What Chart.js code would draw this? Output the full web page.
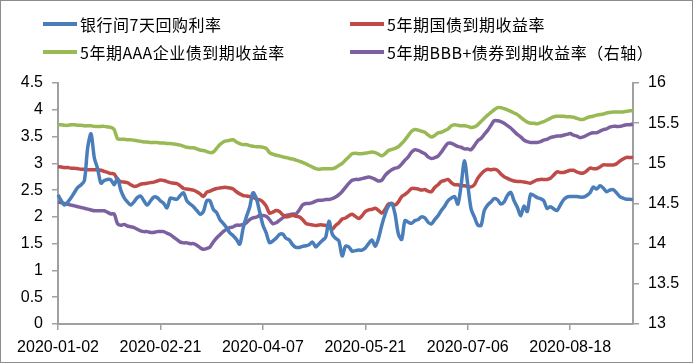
<!DOCTYPE html>
<html>
<head>
<meta charset="utf-8">
<script src="https://cdn.jsdelivr.net/npm/chart.js@4.4.1/dist/chart.umd.min.js"></script>
<style>
  body { margin: 0; background: #fff; }
  #wrap { position: relative; width: 693px; height: 363px; }
  #frame { position: absolute; left: 0; top: 0; width: 691px; height: 361px; border: 1px solid #8c8c8c; pointer-events: none; }
  .lg { position: absolute; height: 20px; display: flex; align-items: center; font: 16px "Noto Sans CJK SC", sans-serif; letter-spacing: 0.5px; color: #000; white-space: nowrap; }
  .lg i { display: inline-block; width: 34px; height: 4px; margin-right: 3px; }
</style>
</head>
<body>
<div id="wrap">
  <canvas id="myChart" width="693" height="363"></canvas>
  <div id="legend"></div>
  <div id="frame"></div>
</div>
<script>
// series names
var seriesNames = ['银行间7天回购利率', '5年期国债到期收益率', '5年期AAA企业债到期收益率', '5年期BBB+债券到期收益率（右轴）']
var seriesColors = ['#4a7ebb', '#be4b48', '#98b954', '#7d60a0']

// dates shown under the ticks (every 31 trading days)
var tickDates = ['2020-01-02', '2020-02-21', '2020-04-07', '2020-05-21', '2020-07-06', '2020-08-18']

// holidays and weekend make-up days of 2020
var holidays = ['2020-01-01', '2020-01-24', '2020-01-27', '2020-01-28', '2020-01-29', '2020-01-30', '2020-01-31',
  '2020-04-06', '2020-05-01', '2020-05-04', '2020-05-05', '2020-06-25', '2020-06-26']
var workWeekends = ['2020-01-19', '2020-04-26', '2020-05-09', '2020-06-28']

// 银行间7天回购利率 (%)
var repo7d = [
  2.41, 2.30, 2.22, 2.28, 2.36, 2.46, 2.55, 2.60, 2.68, 3.30,
  3.55, 3.10, 2.90, 2.63, 2.68, 2.70, 2.69, 2.60, 2.72, 2.50,
  2.36, 2.28, 2.22, 2.28, 2.36, 2.39, 2.30, 2.22, 2.30, 2.37,
  2.36, 2.30, 2.25, 2.17, 2.35, 2.34, 2.33, 2.40, 2.45, 2.30,
  2.24, 2.19, 2.12, 2.05, 2.10, 2.30, 2.30, 2.14, 2.08, 1.95,
  1.88, 1.80, 1.70, 1.65, 1.58, 1.49, 1.78, 2.00, 2.18, 2.45,
  2.35, 2.10, 1.85, 1.70, 1.52, 1.55, 1.60, 1.67, 1.68, 1.60,
  1.57, 1.48, 1.43, 1.43, 1.45, 1.46, 1.48, 1.53, 1.44, 1.50,
  1.56, 1.62, 1.92, 1.68, 1.60, 1.55, 1.27, 1.45, 1.44, 1.36,
  1.37, 1.38, 1.38, 1.42, 1.50, 1.57, 1.45, 1.60, 1.85, 2.05,
  2.20, 2.25, 2.05, 1.68, 1.58, 1.93, 1.90, 1.88, 1.93, 1.95,
  2.00, 1.98, 1.90, 1.87, 1.95, 2.02, 2.12, 2.20, 2.30, 2.35,
  2.38, 2.24, 2.60, 3.05, 2.60, 2.15, 2.00, 1.85, 1.84, 2.12,
  2.22, 2.28, 2.34, 2.32, 2.24, 2.28, 2.40, 2.46, 2.30, 2.18,
  2.02, 2.20, 2.10, 2.42, 2.40, 2.36, 2.34, 2.30, 2.16, 2.19,
  2.15, 2.12, 2.22, 2.32, 2.37, 2.38, 2.38, 2.38, 2.37, 2.37,
  2.40, 2.45, 2.56, 2.52, 2.58, 2.54, 2.47, 2.50, 2.51, 2.45,
  2.38, 2.35, 2.33, 2.33, 2.32
]

// 5年期国债到期收益率 (%)
var gov5y = [
  2.94, 2.93, 2.92, 2.92, 2.91, 2.91, 2.90, 2.89, 2.89, 2.88,
  2.88, 2.88, 2.88, 2.87, 2.85, 2.83, 2.81, 2.80, 2.70, 2.66,
  2.65, 2.64, 2.60, 2.57, 2.58, 2.61, 2.62, 2.63, 2.64, 2.65,
  2.67, 2.69, 2.68, 2.66, 2.64, 2.63, 2.62, 2.58, 2.53, 2.52,
  2.51, 2.50, 2.47, 2.43, 2.38, 2.46, 2.48, 2.51, 2.53, 2.54,
  2.55, 2.55, 2.54, 2.52, 2.47, 2.43, 2.40, 2.39, 2.38, 2.37,
  2.33, 2.32, 2.28, 2.20, 2.07, 2.09, 2.12, 2.10, 2.04, 2.00,
  2.01, 2.03, 2.01, 2.00, 1.95, 1.88, 1.86, 1.85, 1.84, 1.85,
  1.85, 1.84, 1.80, 1.77, 1.84, 1.89, 1.96, 1.98, 2.02, 2.05,
  2.01, 1.97, 2.02, 2.10, 2.13, 2.14, 2.16, 2.12, 2.07, 2.14,
  2.24, 2.25, 2.22, 2.28, 2.38, 2.42, 2.47, 2.53, 2.53, 2.52,
  2.50, 2.51, 2.48, 2.47, 2.55, 2.60, 2.66, 2.68, 2.70, 2.64,
  2.60, 2.60, 2.58, 2.58, 2.57, 2.56, 2.60, 2.72, 2.80, 2.86,
  2.89, 2.88, 2.89, 2.87, 2.80, 2.75, 2.72, 2.69, 2.67, 2.66,
  2.66, 2.65, 2.64, 2.63, 2.66, 2.69, 2.70, 2.70, 2.70, 2.72,
  2.78, 2.84, 2.83, 2.83, 2.85, 2.87, 2.87, 2.84, 2.82, 2.82,
  2.86, 2.91, 2.90, 2.90, 2.93, 2.97, 2.97, 2.97, 2.97, 2.99,
  3.04, 3.08, 3.11, 3.11, 3.11
]

// 5年期AAA企业债到期收益率 (%)
var aaa5y = [
  3.72, 3.72, 3.71, 3.71, 3.72, 3.72, 3.71, 3.71, 3.70, 3.70,
  3.70, 3.69, 3.69, 3.69, 3.69, 3.68, 3.67, 3.63, 3.46, 3.45,
  3.45, 3.44, 3.44, 3.43, 3.42, 3.41, 3.40, 3.40, 3.39, 3.39,
  3.39, 3.38, 3.38, 3.37, 3.37, 3.36, 3.35, 3.34, 3.32, 3.30,
  3.29, 3.29, 3.27, 3.25, 3.24, 3.22, 3.20, 3.21, 3.28, 3.35,
  3.40, 3.42, 3.43, 3.44, 3.40, 3.37, 3.35, 3.35, 3.33, 3.32,
  3.31, 3.31, 3.30, 3.28, 3.20, 3.17, 3.15, 3.14, 3.12, 3.11,
  3.09, 3.08, 3.06, 3.04, 3.02, 2.99, 2.96, 2.93, 2.90, 2.89,
  2.90, 2.90, 2.90, 2.90, 2.92, 2.96, 3.00, 3.06, 3.12, 3.18,
  3.19, 3.18, 3.18, 3.19, 3.20, 3.21, 3.20, 3.17, 3.14, 3.18,
  3.24, 3.26, 3.28, 3.31, 3.37, 3.44, 3.52, 3.60, 3.63, 3.62,
  3.60, 3.58, 3.53, 3.49, 3.52, 3.57, 3.58, 3.61, 3.64, 3.70,
  3.72, 3.71, 3.70, 3.70, 3.69, 3.67, 3.68, 3.72, 3.78, 3.84,
  3.90, 3.95, 4.00, 4.04, 4.04, 4.02, 4.00, 3.97, 3.94, 3.91,
  3.86, 3.81, 3.77, 3.75, 3.75, 3.74, 3.76, 3.78, 3.81, 3.84,
  3.87, 3.88, 3.88, 3.88, 3.87, 3.87, 3.86, 3.84, 3.82, 3.82,
  3.85, 3.87, 3.88, 3.90, 3.91, 3.92, 3.94, 3.95, 3.96, 3.96,
  3.96, 3.96, 3.97, 3.98, 3.98
]

// 5年期BBB+债券到期收益率 (%, 右轴)
var bbb5y = [
  14.52, 14.51, 14.50, 14.49, 14.48, 14.47, 14.46, 14.45, 14.44, 14.43,
  14.42, 14.41, 14.41, 14.41, 14.41, 14.39, 14.37, 14.37, 14.25, 14.23,
  14.24, 14.22, 14.21, 14.20, 14.18, 14.16, 14.15, 14.15, 14.14, 14.14,
  14.15, 14.15, 14.15, 14.13, 14.11, 14.08, 14.05, 14.02, 14.01, 14.01,
  14.00, 14.00, 13.98, 13.95, 13.93, 13.94, 13.96, 14.02, 14.07, 14.11,
  14.15, 14.18, 14.20, 14.21, 14.23, 14.23, 14.24, 14.26, 14.30, 14.32,
  14.33, 14.35, 14.35, 14.34, 14.30, 14.25, 14.26, 14.29, 14.32, 14.35,
  14.36, 14.37, 14.37, 14.42, 14.48, 14.50, 14.50, 14.51, 14.53, 14.54,
  14.54, 14.55, 14.55, 14.56, 14.58, 14.61, 14.65, 14.70, 14.75, 14.79,
  14.80, 14.80, 14.81, 14.82, 14.83, 14.82, 14.80, 14.78, 14.79, 14.85,
  14.89, 14.92, 14.94, 14.95, 14.99, 15.04, 15.08, 15.14, 15.17, 15.16,
  15.14, 15.12, 15.08, 15.06, 15.07, 15.09, 15.14, 15.20, 15.25, 15.25,
  15.23, 15.21, 15.20, 15.18, 15.18, 15.17, 15.22, 15.28, 15.31, 15.36,
  15.41, 15.47, 15.53, 15.53, 15.52, 15.50, 15.47, 15.44, 15.40, 15.36,
  15.33, 15.29, 15.27, 15.26, 15.26, 15.26, 15.27, 15.29, 15.30, 15.32,
  15.33, 15.34, 15.34, 15.35, 15.36, 15.37, 15.35, 15.34, 15.32, 15.33,
  15.35, 15.37, 15.38, 15.38, 15.40, 15.42, 15.43, 15.45, 15.46, 15.46,
  15.46, 15.47, 15.48, 15.48, 15.49
]

// build trading-day labels, one per value
function buildDates(start, count) {
  var out = []
  var d = new Date(start + 'T00:00:00Z')
  while (out.length < count) {
    var s = d.toISOString().slice(0, 10)
    var wd = d.getUTCDay()
    var work = (wd !== 0 && wd !== 6 && holidays.indexOf(s) < 0) || workWeekends.indexOf(s) >= 0
    if (work) out.push(s)
    d.setUTCDate(d.getUTCDate() + 1)
  }
  return out
}
var dates = buildDates(tickDates[0], repo7d.length)

// html legend, two rows by two columns
var legendPos = [[43, 14], [350, 14], [43, 42], [350, 42]]
var legendHtml = ''
seriesNames.forEach(function (name, i) {
  legendHtml += '<div class="lg" style="left:' + legendPos[i][0] + 'px;top:' + legendPos[i][1] + 'px">' +
    '<i style="background:' + seriesColors[i] + '"></i>' + name + '</div>'
})
document.getElementById('legend').innerHTML = legendHtml

var axisGray = '#a0a0a0'
var tickFont = { family: 'Liberation Sans, Arial, sans-serif', size: 16 }

// 4.5, 4, 3.5 ... without trailing zeros
function plainNumber(v) {
  return String(Number(v.toFixed(1)))
}

function makeSet(i, data, axis) {
  return {
    label: seriesNames[i],
    data: data,
    yAxisID: axis,
    borderColor: seriesColors[i],
    backgroundColor: seriesColors[i],
    borderWidth: 3.5,
    pointRadius: 0,
    fill: false,
    tension: 0.3
  }
}

const ctx = document.getElementById('myChart').getContext('2d')
const myChart = new Chart(ctx, {
  type: 'line',
  data: {
    labels: dates,
    datasets: [
      makeSet(0, repo7d, 'y'),
      makeSet(1, gov5y, 'y'),
      makeSet(2, aaa5y, 'y'),
      makeSet(3, bbb5y, 'y1')
    ]
  },
  options: {
    responsive: false,
    animation: false,
    devicePixelRatio: 1,
    layout: { padding: { top: 83, left: 0, right: 0, bottom: 0 } },
    plugins: { legend: { display: false }, tooltip: { enabled: false } },
    scales: {
      x: {
        offset: false,
        afterBuildTicks: function (axis) {
          axis.ticks = axis.ticks.filter(function (t) { return t.value % 31 === 0 })
        },
        afterFit: function (s) { s.height = 39 },
        ticks: {
          autoSkip: false, maxRotation: 0, minRotation: 0, padding: 8,
          color: '#000', font: tickFont,
          callback: function (v) { return this.getLabelForValue(v) }
        },
        grid: { drawOnChartArea: false, tickLength: 6, color: axisGray, lineWidth: 1.5 },
        border: { color: axisGray, width: 2 }
      },
      y: {
        position: 'left',
        min: 0, max: 4.5,
        afterFit: function (s) { s.width = 58 },
        ticks: { stepSize: 0.5, padding: 9, color: '#000', font: tickFont, callback: plainNumber },
        grid: { drawOnChartArea: false, tickLength: 6, color: axisGray, lineWidth: 1.5 },
        border: { color: axisGray, width: 2 }
      },
      y1: {
        position: 'right',
        min: 13, max: 16,
        afterFit: function (s) { s.width = 60 },
        ticks: { stepSize: 0.5, padding: 9, color: '#000', font: tickFont, callback: plainNumber },
        grid: { drawOnChartArea: false, tickLength: 6, color: axisGray, lineWidth: 1.5 },
        border: { color: axisGray, width: 2 }
      }
    }
  }
})
</script>
</body>
</html>
